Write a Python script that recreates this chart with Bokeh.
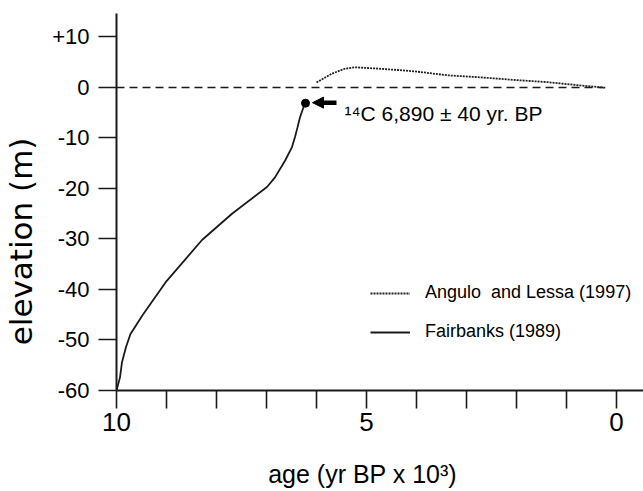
from bokeh.plotting import figure
from bokeh.models import (Range1d, FixedTicker, Arrow, NormalHead, Legend,
                          LegendItem, Label)
from bokeh.embed import file_html
from bokeh.resources import INLINE

# ---- data ----
fairbanks_age = [10.0, 9.93, 9.89, 9.81, 9.72, 9.48, 9.02, 8.29, 7.69, 6.99,
                 6.83, 6.63, 6.49, 6.43, 6.38, 6.33, 6.26, 6.22]
fairbanks_elev = [-60.0, -57.4, -54.4, -51.4, -48.8, -45.1, -38.6, -30.2, -25.0, -19.7,
                  -17.8, -14.5, -11.8, -9.8, -7.9, -5.9, -3.9, -3.1]

angulo_age = [6.00, 5.70, 5.44, 5.24, 4.70, 4.04, 3.37, 2.71, 2.05, 1.37, 0.72, 0.22]
angulo_elev = [1.0, 2.7, 3.7, 4.0, 3.7, 3.2, 2.4, 2.0, 1.5, 1.05, 0.4, -0.05]

dated_age = [6.22]
dated_elev = [-3.1]
date_label = "\u00b9\u2074C 6,890 \u00b1 40 yr. BP"

datum_age = [10.0, 0.26]
datum_elev = [0.0, 0.0]

x_ticks = list(range(0, 11))
x_tick_labels = {10: "10", 5: "5", 0: "0"}
y_ticks = [10, 0, -10, -20, -30, -40, -50, -60]
y_tick_labels = {10: "+10", 0: "0", -10: "-10", -20: "-20", -30: "-30",
                 -40: "-40", -50: "-50", -60: "-60"}

x_title = "age (yr BP x 10\u00b3)"
y_title = "elevation (m)"
legend_labels = ["Angulo  and Lessa (1997)", "Fairbanks (1989)"]

FONT = "Liberation Sans"
INK = "#1a1a1a"
NBSP = "\u00a0"

X_START, X_END = 10, -0.54
Y_START, Y_END = -60, 14.65

p = figure(width=643, height=491, output_backend="svg", toolbar_location=None,
           x_range=Range1d(X_START, X_END), y_range=Range1d(Y_START, Y_END),
           min_border_left=114, min_border_right=0, min_border_top=13,
           min_border_bottom=101)
p.outline_line_color = None
p.xgrid.visible = False
p.ygrid.visible = False
p.background_fill_color = "white"
p.border_fill_color = "white"

# x axis
xa = p.xaxis[0]
xa.ticker = FixedTicker(ticks=x_ticks)
xa.major_label_overrides = {t: x_tick_labels.get(t, "") for t in x_ticks}
xa.minor_tick_line_color = None
xa.major_tick_in = 0
xa.major_tick_out = 18
xa.major_tick_line_width = 1.6
xa.major_tick_line_color = INK
xa.axis_line_width = 2
xa.axis_line_color = INK
xa.major_label_text_font = FONT
xa.major_label_text_font_size = "26px"
xa.major_label_text_color = "black"
xa.major_label_standoff = 4
# trailing no-break spaces shift the centred title slightly left, as in the original
xa.axis_label = x_title + NBSP * 5
xa.axis_label_text_font = FONT
xa.axis_label_text_font_size = "25px"
xa.axis_label_text_font_style = "normal"
xa.axis_label_text_color = "black"
xa.axis_label_standoff = 26

# y axis
ya = p.yaxis[0]
ya.ticker = FixedTicker(ticks=y_ticks)
ya.major_label_overrides = y_tick_labels
ya.minor_tick_line_color = None
ya.major_tick_in = 0
ya.major_tick_out = 18
ya.major_tick_line_width = 1.6
ya.major_tick_line_color = INK
ya.axis_line_width = 2
ya.axis_line_color = INK
ya.major_label_text_font = FONT
ya.major_label_text_font_size = "22px"
ya.major_label_text_color = "black"
ya.major_label_standoff = 9
# trailing no-break spaces push the visible title down, as in the original
ya.axis_label = y_title + NBSP * 8
ya.axis_label_text_font = "DejaVu Sans"
ya.axis_label_text_font_size = "31px"
ya.axis_label_text_font_style = "normal"
ya.axis_label_text_color = "black"
ya.axis_label_standoff = 10

# datum line
p.line(datum_age, datum_elev, line_color=INK, line_width=1.6, line_dash="8 5")

# curves
r_ang = p.line(angulo_age, angulo_elev, line_color="#222222", line_width=1.8,
               line_dash="2 1")
r_fb = p.line(fairbanks_age, fairbanks_elev, line_color=INK, line_width=1.8)

# dated sample
p.scatter(dated_age, dated_elev, size=8, color="black")
p.add_layout(Arrow(end=NormalHead(size=11, fill_color="black", line_color="black", line_width=1),
                   x_start=dated_age[0] - 0.62, y_start=dated_elev[0] + 0.1,
                   x_end=dated_age[0] - 0.14, y_end=dated_elev[0] + 0.1,
                   line_width=4.5, line_color="black"))
p.add_layout(Label(x=dated_age[0] - 0.78, y=dated_elev[0] - 2.05, text=date_label,
                   text_font=FONT, text_font_size="21px", text_baseline="alphabetic",
                   text_color="black"))

legend = Legend(items=[LegendItem(label=legend_labels[0], renderers=[r_ang]),
                       LegendItem(label=legend_labels[1], renderers=[r_fb])],
                location=(254, 48), border_line_color=None, background_fill_alpha=0,
                glyph_width=40, glyph_height=20, label_height=20, spacing=18,
                padding=0, margin=0, label_standoff=15,
                label_text_font=FONT, label_text_font_size="18px",
                label_text_color="black")
p.add_layout(legend)

open("out.html", "w").write(file_html(p, INLINE))
